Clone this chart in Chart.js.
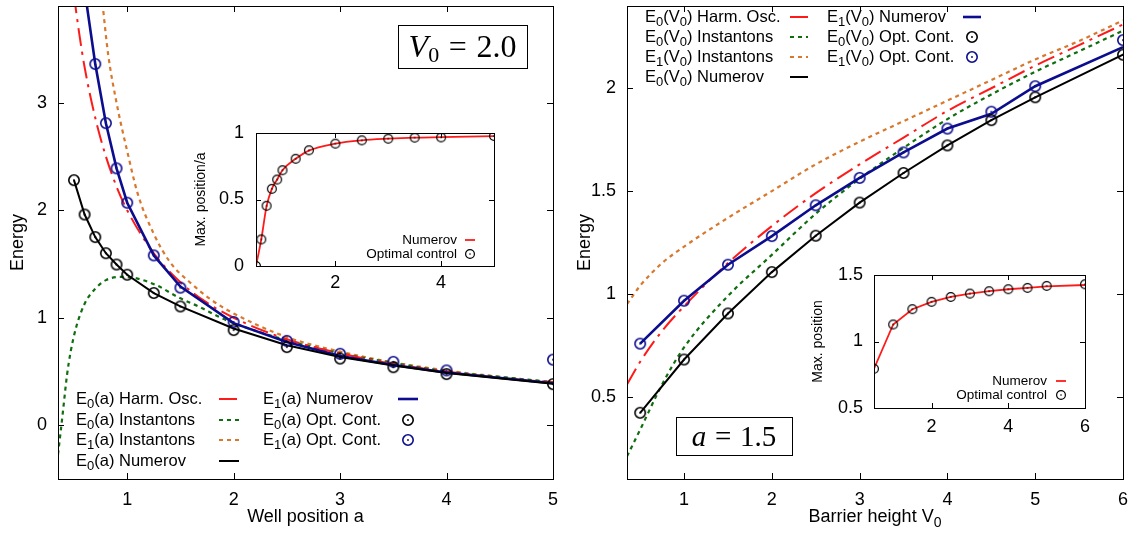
<!DOCTYPE html>
<html>
<head>
<meta charset="utf-8">
<script src="https://cdn.jsdelivr.net/npm/chart.js@4.4.1/dist/chart.umd.min.js"></script>
<style>
  html, body { margin: 0; padding: 0; background: #fff; }
  #page { position: relative; width: 1136px; height: 533px; overflow: hidden; background: #fff; }
  #page canvas { position: absolute; }
</style>
</head>
<body>
<div id="page">
  <canvas id="wellChart" width="565" height="533" style="left:0;top:0"></canvas>
  <canvas id="barrierChart" width="571" height="533" style="left:565px;top:0"></canvas>
  <canvas id="wellInset" width="315" height="180" style="left:190px;top:120px"></canvas>
  <canvas id="barrierInset" width="300" height="182" style="left:800px;top:258px"></canvas>
</div>
<script>
// ---- energies vs well position a (V0 = 2.0) ----
const wellHarmA = [0.5, 0.55, 0.6, 0.7, 0.8, 0.9, 1.0, 1.25, 1.5, 1.75, 2.0, 2.5, 3.0, 3.5, 4.0, 4.5, 5.0];
const wellHarmE0 = [4.0, 3.64, 3.33, 2.86, 2.5, 2.22, 2.0, 1.6, 1.33, 1.14, 1.0, 0.8, 0.67, 0.57, 0.5, 0.44, 0.4];
const wellInstA0 = [0.35, 0.375, 0.4, 0.435, 0.47, 0.52, 0.6, 0.7, 0.8, 0.94, 1.07, 1.28, 1.48, 1.68, 1.88, 2.0, 2.5, 3.0, 3.5, 4.0, 4.5, 5.0];
const wellInstE0 = [-0.27, -0.06, 0.16, 0.47, 0.69, 0.91, 1.13, 1.27, 1.35, 1.38, 1.37, 1.3, 1.19, 1.1, 1.0, 0.95, 0.79, 0.67, 0.58, 0.5, 0.45, 0.4];
const wellInstA1 = [0.76, 0.82, 0.9, 1.0, 1.1, 1.25, 1.4, 1.6, 1.8, 2.0, 2.5, 3.0, 3.5, 4.0, 4.5, 5.0];
const wellInstE1 = [4.0, 3.46, 3.0, 2.55, 2.15, 1.78, 1.52, 1.32, 1.16, 1.04, 0.82, 0.685, 0.585, 0.51, 0.45, 0.4];
const wellNumA0 = [0.5, 0.6, 0.7, 0.8, 0.9, 1.0, 1.25, 1.5, 2.0, 2.5, 3.0, 3.5, 4.0, 5.0];
const wellNumE0 = [2.28, 1.96, 1.75, 1.6, 1.495, 1.4, 1.23, 1.105, 0.9, 0.745, 0.635, 0.555, 0.485, 0.385];
const wellNumA1 = [0.6, 0.7, 0.8, 0.9, 1.0, 1.25, 1.5, 2.0, 2.5, 3.0, 3.5, 4.0, 5.0];
const wellNumE1 = [4.05, 3.36, 2.81, 2.39, 2.07, 1.58, 1.29, 0.95, 0.775, 0.645, 0.56, 0.49, 0.39];
const wellOptA0 = [0.5, 0.6, 0.7, 0.8, 0.9, 1.0, 1.25, 1.5, 2.0, 2.5, 3.0, 3.5, 4.0, 5.0];
const wellOptE0 = [2.28, 1.96, 1.75, 1.6, 1.495, 1.4, 1.23, 1.105, 0.885, 0.727, 0.62, 0.54, 0.476, 0.382];
const wellOptA1 = [0.7, 0.8, 0.9, 1.0, 1.25, 1.5, 2.0, 2.5, 3.0, 3.5, 4.0, 5.0];
const wellOptE1 = [3.36, 2.81, 2.39, 2.07, 1.58, 1.28, 0.96, 0.785, 0.665, 0.59, 0.51, 0.61];
const wellTicksX = [1, 2, 3, 4, 5];
const wellTicksY = [0, 1, 2, 3];

// ---- energies vs barrier height V0 (a = 1.5) ----
const barHarmV = [0.35, 0.5, 0.75, 1.0, 1.5, 2.0, 2.5, 3.0, 3.5, 4.0, 4.5, 5.0, 5.5, 6.0];
const barHarmE0 = [0.56, 0.67, 0.82, 0.94, 1.15, 1.33, 1.49, 1.63, 1.76, 1.89, 2.0, 2.11, 2.21, 2.31];
const barInstV = [0.35, 0.5, 0.75, 1.0, 1.5, 2.0, 2.5, 3.0, 3.5, 4.0, 4.5, 5.0, 5.5, 6.0];
const barInstE0 = [0.21, 0.34, 0.56, 0.74, 0.99, 1.19, 1.39, 1.56, 1.71, 1.85, 1.97, 2.08, 2.18, 2.28];
const barInstE1 = [0.95, 1.04, 1.15, 1.23, 1.37, 1.5, 1.63, 1.74, 1.84, 1.94, 2.04, 2.14, 2.23, 2.33];
const barNumV = [0.5, 1.0, 1.5, 2.0, 2.5, 3.0, 3.5, 4.0, 4.5, 5.0, 6.0];
const barNumE0 = [0.422, 0.681, 0.905, 1.106, 1.283, 1.444, 1.588, 1.722, 1.845, 1.956, 2.163];
const barNumE1 = [0.758, 0.967, 1.142, 1.281, 1.431, 1.564, 1.688, 1.804, 1.876, 2.01, 2.2];
const barOptE0 = [0.422, 0.681, 0.905, 1.106, 1.283, 1.444, 1.588, 1.722, 1.845, 1.956, 2.163];
const barOptE1 = [0.758, 0.967, 1.142, 1.281, 1.431, 1.564, 1.688, 1.804, 1.886, 2.01, 2.234];
const barTicksX = [1, 2, 3, 4, 5, 6];
const barTicksY = [0.5, 1, 1.5, 2];

// ---- insets: position of the wave-function maximum ----
const insetA = [0.5, 0.6, 0.7, 0.8, 0.9, 1.0, 1.25, 1.5, 2.0, 2.5, 3.0, 3.5, 4.0, 5.0];
const maxOverANum = [0, 0.2, 0.45, 0.58, 0.65, 0.72, 0.806, 0.868, 0.92, 0.945, 0.957, 0.965, 0.969, 0.977];
const maxOverAOpt = [0, 0.2, 0.453, 0.58, 0.65, 0.72, 0.806, 0.87, 0.92, 0.945, 0.957, 0.965, 0.967, 0.977];
const insetATicks = [2, 4];
const insetAValTicks = [0, 0.5, 1];
const insetV = [0.5, 1.0, 1.5, 2.0, 2.5, 3.0, 3.5, 4.0, 4.5, 5.0, 6.0];
const maxPosNum = [0.795, 1.128, 1.243, 1.298, 1.335, 1.36, 1.378, 1.393, 1.403, 1.415, 1.425];
const maxPosOpt = [0.795, 1.128, 1.243, 1.298, 1.335, 1.36, 1.378, 1.393, 1.403, 1.418, 1.43];
const insetVTicks = [2, 4, 6];
const insetVValTicks = [0.5, 1, 1.5];

const SANS = '"Liberation Sans", Arial, Helvetica, sans-serif';
const SERIF = '"Liberation Serif", "Times New Roman", serif';
const RED = '#ff1a1a', GREEN = '#0f6e0f', ORANGE = '#d9782d', BLUE = '#0c0c8f', BLACK = '#000000';

Chart.defaults.font.family = SANS;
Chart.defaults.color = '#000';

const pts = (xs, ys) => xs.map((x, i) => ({ x, y: ys[i] }));

// open circle with a centre dot, used as point style and key sample
function ringDot(color, r, lw) {
  const c = document.createElement('canvas');
  const s = Math.ceil(2 * r + lw + 2);
  c.width = c.height = s;
  const g = c.getContext('2d');
  g.strokeStyle = color;
  g.fillStyle = color;
  g.lineWidth = lw;
  g.beginPath(); g.arc(s / 2, s / 2, r, 0, Math.PI * 2); g.stroke();
  g.beginPath(); g.arc(s / 2, s / 2, Math.max(0.8, lw * 0.6), 0, Math.PI * 2); g.fill();
  return c;
}

function curve(label, xs, ys, color, width, dash, smooth) {
  return {
    label, data: pts(xs, ys), borderColor: color, borderWidth: width, borderDash: dash,
    pointRadius: 0, fill: false, order: 2,
    cubicInterpolationMode: smooth ? 'monotone' : 'default', tension: 0
  };
}

function marks(label, xs, ys, img) {
  return { label, data: pts(xs, ys), showLine: false, pointStyle: img, pointRadius: 5, order: 0 };
}

function axis({ min, max, ticks, size, vertical, fontSize, pad, title }) {
  return {
    type: 'linear', min, max,
    grid: { display: false, drawTicks: false },
    border: { display: false },
    ticks: {
      font: { size: fontSize }, color: '#000', padding: pad, maxRotation: 0, autoSkip: false,
      callback: v => String(Number(v.toFixed(2)))
    },
    title: title || { display: false },
    afterBuildTicks: s => { s.ticks = ticks.map(v => ({ value: v })); },
    afterFit: s => {
      if (vertical) { s.width = size; s.paddingTop = 0; s.paddingBottom = 0; }
      else { s.height = size; s.paddingLeft = 0; s.paddingRight = 0; }
    }
  };
}

// text with gnuplot-like "_0" subscripts
function drawRich(ctx, text, x, y, align, size) {
  const subSize = Math.round(size * 0.78);
  const seg = text.split(/(_\d)/).filter(Boolean)
    .map(p => (p[0] === '_' ? { t: p.slice(1), sub: true } : { t: p, sub: false }));
  let total = 0;
  seg.forEach(s => {
    ctx.font = `${s.sub ? subSize : size}px ${SANS}`;
    s.w = ctx.measureText(s.t).width;
    total += s.w;
  });
  let cx = align === 'right' ? x - total : align === 'center' ? x - total / 2 : x;
  ctx.textAlign = 'left';
  ctx.textBaseline = 'middle';
  ctx.fillStyle = '#000';
  seg.forEach(s => {
    ctx.font = `${s.sub ? subSize : size}px ${SANS}`;
    ctx.fillText(s.t, cx, s.sub ? y + size * 0.32 : y);
    cx += s.w;
  });
}

// boxed LaTeX-style label
function drawMath(ctx, box) {
  const { x, y, w, h, size, pieces } = box;
  ctx.lineWidth = 1;
  ctx.strokeStyle = '#000';
  ctx.strokeRect(x + 0.5, y + 0.5, w, h);
  const fontFor = p => `${p.it ? 'italic ' : ''}${p.sub ? Math.round(size * 0.7) : size}px ${SERIF}`;
  const items = pieces.map(p => {
    if (p.gap) return { w: p.gap * size };
    ctx.font = fontFor(p);
    return Object.assign({}, p, { w: ctx.measureText(p.t).width });
  });
  let cx = x + (w - items.reduce((s, i) => s + i.w, 0)) / 2;
  const base = y + h / 2 + size * 0.33;
  ctx.textAlign = 'left';
  ctx.textBaseline = 'alphabetic';
  ctx.fillStyle = '#000';
  items.forEach(i => {
    if (i.t) { ctx.font = fontFor(i); ctx.fillText(i.t, cx, i.sub ? base + size * 0.16 : base); }
    cx += i.w;
  });
}

// per-canvas decoration: frame, inward ticks, key, titles
const decor = {
  wellChart: {
    tick: 6,
    key: { size: 16.5, rows: [399, 420, 440, 461], perCol: 4, sampleLen: 20,
      cols: [{ textX: 76, sampleX: 219, align: 'left' }, { textX: 263, sampleX: 398, align: 'left' }] },
    xTitle: { text: 'Well position a', y: 517, size: 18 },
    box: { x: 398, y: 25, w: 129, h: 43, size: 32,
      pieces: [{ t: 'V', it: true }, { t: '0', sub: true }, { gap: 0.3 }, { t: '=' }, { gap: 0.3 }, { t: '2.0' }] }
  },
  barrierChart: {
    tick: 6,
    key: { size: 16.5, rows: [17, 37, 57, 77], perCol: 4, sampleLen: 18,
      cols: [{ textX: 80, sampleX: 225, align: 'left' }, { textX: 262, sampleX: 398, align: 'left' }] },
    xTitle: { text: 'Barrier height V_0', y: 517, size: 18 },
    box: { x: 111, y: 417, w: 116, h: 38, size: 29,
      pieces: [{ t: 'a', it: true }, { gap: 0.3 }, { t: '=' }, { gap: 0.3 }, { t: '1.5' }] }
  },
  wellInset: {
    tick: 5,
    key: { size: 13.5, rows: [120, 134], perCol: 2, sampleLen: 10,
      cols: [{ textX: 267, sampleX: 275, align: 'right' }] }
  },
  barrierInset: {
    tick: 5,
    key: { size: 13.5, rows: [123, 137], perCol: 2, sampleLen: 10,
      cols: [{ textX: 247, sampleX: 256, align: 'right' }] }
  }
};

const decorPlugin = {
  id: 'decor',
  afterDraw(chart) {
    const d = decor[chart.canvas.id];
    if (!d) return;
    const { ctx, chartArea: a } = chart;
    const { x, y } = chart.scales;
    ctx.save();
    ctx.strokeStyle = '#000';
    ctx.lineWidth = 1;
    ctx.setLineDash([]);
    ctx.beginPath();
    x.ticks.forEach(t => {
      const px = Math.round(x.getPixelForValue(t.value)) + 0.5;
      ctx.moveTo(px, a.bottom); ctx.lineTo(px, a.bottom - d.tick);
      ctx.moveTo(px, a.top); ctx.lineTo(px, a.top + d.tick);
    });
    y.ticks.forEach(t => {
      const py = Math.round(y.getPixelForValue(t.value)) + 0.5;
      ctx.moveTo(a.left, py); ctx.lineTo(a.left + d.tick, py);
      ctx.moveTo(a.right, py); ctx.lineTo(a.right - d.tick, py);
    });
    ctx.stroke();
    ctx.strokeRect(Math.round(a.left) + 0.5, Math.round(a.top) + 0.5,
      Math.round(a.right - a.left), Math.round(a.bottom - a.top));

    const k = d.key;
    chart.data.datasets.forEach((ds, i) => {
      const col = k.cols[Math.floor(i / k.perCol)];
      const ry = k.rows[i % k.perCol];
      drawRich(ctx, ds.label, col.textX, ry, col.align, k.size);
      if (ds.showLine === false) {
        const img = ds.pointStyle;
        ctx.drawImage(img, col.sampleX + k.sampleLen / 2 - img.width / 2, ry - img.height / 2);
      } else {
        ctx.save();
        ctx.strokeStyle = ds.borderColor;
        ctx.lineWidth = ds.borderWidth;
        ctx.setLineDash(ds.borderDash || []);
        ctx.beginPath();
        ctx.moveTo(col.sampleX, ry);
        ctx.lineTo(col.sampleX + k.sampleLen, ry);
        ctx.stroke();
        ctx.restore();
      }
    });

    if (d.xTitle) drawRich(ctx, d.xTitle.text, (a.left + a.right) / 2, d.xTitle.y, 'center', d.xTitle.size);
    if (d.box) drawMath(ctx, d.box);
    ctx.restore();
  }
};
Chart.register(decorPlugin);

const baseOptions = (layoutPadding, scales) => ({
  responsive: false,
  animation: false,
  devicePixelRatio: 1,
  events: [],
  layout: { padding: layoutPadding },
  plugins: { legend: { display: false }, tooltip: { enabled: false } },
  scales
});

const blackRing = ringDot(BLACK, 5.2, 1.6);
const blueRing = ringDot(BLUE, 5.2, 1.6);
const smallRing = ringDot(BLACK, 4.4, 1.2);

new Chart(document.getElementById('wellChart'), {
  type: 'line',
  data: {
    datasets: [
      curve('E_0(a) Harm. Osc.', wellHarmA, wellHarmE0, RED, 2, [18, 6, 3, 6], true),
      curve('E_0(a) Instantons', wellInstA0, wellInstE0, GREEN, 2.2, [4, 4], true),
      curve('E_1(a) Instantons', wellInstA1, wellInstE1, ORANGE, 2.2, [4, 4], true),
      Object.assign(curve('E_0(a) Numerov', wellNumA0, wellNumE0, BLACK, 2, [], false), { order: 1 }),
      Object.assign(curve('E_1(a) Numerov', wellNumA1, wellNumE1, BLUE, 2.6, [], false), { order: 1 }),
      marks('E_0(a) Opt. Cont.', wellOptA0, wellOptE0, blackRing),
      marks('E_1(a) Opt. Cont.', wellOptA1, wellOptE1, blueRing)
    ]
  },
  options: baseOptions({ top: 2, right: 12, left: 0, bottom: 0 }, {
    x: axis({ min: 0.35, max: 5, ticks: wellTicksX, size: 54, vertical: false, fontSize: 18, pad: 10 }),
    y: axis({ min: -0.5, max: 3.9, ticks: wellTicksY, size: 58, vertical: true, fontSize: 18, pad: 11,
      title: { display: true, text: 'Energy', font: { size: 18 }, color: '#000', padding: { top: 7, bottom: 0 } } })
  })
});

new Chart(document.getElementById('barrierChart'), {
  type: 'line',
  data: {
    datasets: [
      curve('E_0(V_0) Harm. Osc.', barHarmV, barHarmE0, RED, 2, [18, 6, 3, 6], true),
      curve('E_0(V_0) Instantons', barInstV, barInstE0, GREEN, 2.2, [4, 4], true),
      curve('E_1(V_0) Instantons', barInstV, barInstE1, ORANGE, 2.2, [4, 4], true),
      Object.assign(curve('E_0(V_0) Numerov', barNumV, barNumE0, BLACK, 2, [], false), { order: 1 }),
      Object.assign(curve('E_1(V_0) Numerov', barNumV, barNumE1, BLUE, 2.6, [], false), { order: 1 }),
      marks('E_0(V_0) Opt. Cont.', barNumV, barOptE0, blackRing),
      marks('E_1(V_0) Opt. Cont.', barNumV, barOptE1, blueRing)
    ]
  },
  options: baseOptions({ top: 2, right: 13, left: 0, bottom: 0 }, {
    x: axis({ min: 0.35, max: 6, ticks: barTicksX, size: 54, vertical: false, fontSize: 18, pad: 10 }),
    y: axis({ min: 0.1, max: 2.4, ticks: barTicksY, size: 62, vertical: true, fontSize: 18, pad: 11,
      title: { display: true, text: 'Energy', font: { size: 18 }, color: '#000', padding: { top: 9, bottom: 0 } } })
  })
});

new Chart(document.getElementById('wellInset'), {
  type: 'line',
  data: {
    datasets: [
      Object.assign(curve('Numerov', insetA, maxOverANum, RED, 1.8, [], true), { order: 1 }),
      marks('Optimal control', insetA, maxOverAOpt, smallRing)
    ]
  },
  options: baseOptions({ top: 13, right: 11, left: 0, bottom: 0 }, {
    x: axis({ min: 0.5, max: 5, ticks: insetATicks, size: 34, vertical: false, fontSize: 18, pad: 6 }),
    y: axis({ min: 0, max: 1, ticks: insetAValTicks, size: 66, vertical: true, fontSize: 18, pad: 12,
      title: { display: true, text: 'Max. position/a', font: { size: 14 }, color: '#000', padding: { top: 3, bottom: 0 } } })
  })
});

new Chart(document.getElementById('barrierInset'), {
  type: 'line',
  data: {
    datasets: [
      Object.assign(curve('Numerov', insetV, maxPosNum, RED, 1.8, [], false), { order: 1 }),
      marks('Optimal control', insetV, maxPosOpt, smallRing)
    ]
  },
  options: baseOptions({ top: 17, right: 15, left: 0, bottom: 0 }, {
    x: axis({ min: 0.5, max: 6, ticks: insetVTicks, size: 32, vertical: false, fontSize: 18, pad: 8 }),
    y: axis({ min: 0.5, max: 1.5, ticks: insetVValTicks, size: 74, vertical: true, fontSize: 18, pad: 11,
      title: { display: true, text: 'Max. position', font: { size: 14 }, color: '#000', padding: { top: 10, bottom: 0 } } })
  })
});
</script>
</body>
</html>
